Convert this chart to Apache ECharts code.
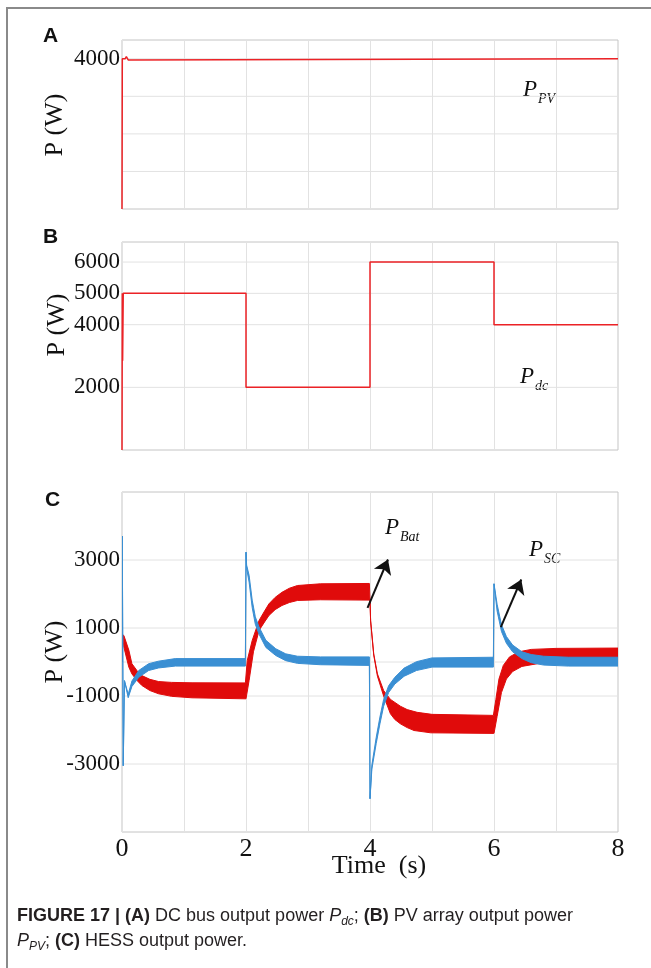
<!DOCTYPE html>
<html>
<head>
<meta charset="utf-8">
<script src="https://cdn.jsdelivr.net/npm/echarts@6/dist/echarts.min.js"></script>
<style>
  html, body { margin: 0; padding: 0; background: #fff; }
  #chart { width: 651px; height: 968px; }
</style>
</head>
<body>
<div id="chart"></div>
<script>
// tick labels and grid rows
const timeTicks = [0, 2, 4, 6, 8]
const pvLabels = [4000]
const pvGridRows = [1000, 2000, 3000, 4000]
const dcLabels = [2000, 4000, 5000, 6000]
const dcGridRows = [2000, 4000, 5000, 6000]
const hessLabels = [-3000, -1000, 1000, 3000]
const hessGridRows = [-3000, -1000, 0, 1000, 3000]

// (A) PV array power, [t, W]
const pvTrace = [[0, 0], [0.005, 4000], [0.05, 4000], [0.07, 4060], [0.1, 3970], [0.13, 4000], [8, 4000]]

// (B) DC bus power
const dcTrace = [[0, 0], [0.005, 5000], [0.01, 2850], [0.02, 5000], [2, 5000], [2, 2000], [4, 2000],
  [4, 6000], [6, 6000], [6, 4000], [8, 4000]]

// (C) battery power envelope (ripple band)
const batUpper = [[0, 0], [0.01, 800], [0.03, 780], [0.11, 350], [0.16, -50], [0.24, -250], [0.32, -400],
  [0.45, -510], [0.59, -575], [0.8, -600], [1.13, -612], [1.99, -615], [2.02, 44], [2.1, 632], [2.21, 1220],
  [2.3, 1500], [2.37, 1710], [2.47, 1900], [2.58, 2050], [2.7, 2170], [2.83, 2250], [3.2, 2300], [3.99, 2310],
  [4.0, 1810], [4.01, 1220], [4.06, 240], [4.12, -350], [4.22, -840], [4.33, -1100], [4.49, -1300],
  [4.6, -1400], [4.76, -1480], [5.0, -1540], [5.99, -1570], [6.03, -1100], [6.08, -500], [6.15, -100],
  [6.25, 150], [6.4, 300], [6.6, 370], [7.0, 400], [8.0, 410]]
const batLower = [[0, 0], [0.01, 800], [0.03, 435], [0.11, -150], [0.16, -350], [0.24, -540], [0.32, -690],
  [0.45, -840], [0.59, -935], [0.8, -1010], [1.13, -1053], [1.99, -1083], [2.0, -1083], [2.05, -544],
  [2.12, 300], [2.21, 926], [2.3, 1180], [2.37, 1368], [2.47, 1540], [2.58, 1662], [2.7, 1750], [2.83, 1810],
  [3.2, 1830], [3.99, 1820], [4.0, 1810], [4.01, 1200], [4.06, 200], [4.12, -420], [4.22, -1000],
  [4.33, -1524], [4.4, -1690], [4.49, -1818], [4.6, -1930], [4.71, -2015], [4.98, -2083], [5.99, -2100],
  [6.0, -2100], [6.05, -1600], [6.12, -900], [6.2, -500], [6.3, -280], [6.45, -130], [6.7, -50], [7.2, -20],
  [8.0, -10]]

// (C) supercapacitor power envelope
const scUpper = [[0, 0], [0.005, 3700], [0.02, -3050], [0.04, -550], [0.1, -950], [0.16, -560], [0.27, -250],
  [0.43, -50], [0.59, 25], [0.86, 100], [1.99, 100], [2.0, 3230], [2.01, 2850], [2.05, 2550], [2.1, 1820],
  [2.15, 1330], [2.21, 1030], [2.32, 640], [2.48, 390], [2.64, 240], [2.83, 170], [3.2, 150], [3.99, 150],
  [4.0, -4020], [4.03, -3030], [4.1, -2220], [4.16, -1620], [4.22, -1100], [4.3, -700], [4.4, -450],
  [4.55, -180], [4.75, 10], [5.0, 120], [5.99, 140], [6.0, 2300], [6.05, 1700], [6.12, 1100], [6.2, 750],
  [6.3, 500], [6.45, 300], [6.6, 220], [6.8, 170], [7.2, 140], [8.0, 140]]
const scLower = [[0, 0], [0.005, 3700], [0.02, -3050], [0.04, -550], [0.1, -1050], [0.16, -720], [0.27, -450],
  [0.43, -250], [0.59, -175], [0.86, -120], [1.99, -120], [2.0, 3230], [2.01, 2750], [2.05, 2350], [2.1, 1600],
  [2.15, 1110], [2.21, 820], [2.32, 430], [2.48, 190], [2.64, 40], [2.83, -40], [3.2, -80], [3.99, -100],
  [4.0, -4020], [4.03, -3150], [4.1, -2400], [4.16, -1820], [4.22, -1300], [4.3, -900], [4.4, -650],
  [4.55, -420], [4.75, -250], [5.0, -150], [5.99, -150], [6.0, 2300], [6.05, 1500], [6.12, 900], [6.2, 550],
  [6.3, 300], [6.45, 100], [6.6, -20], [6.8, -90], [7.2, -120], [8.0, -120]]

// annotation arrows, [tail, head]
const batArrow = [[3.96, 1594], [4.29, 3015]]
const scArrow = [[6.11, 1024], [6.44, 2426]]

const RED = '#ec2226'
const BAT_RED = '#e00b0b'
const SC_BLUE = '#3a8fd3'
const GRID_LINE = '#e2e2e2'
const SERIF = '"Liberation Serif", "Times New Roman", serif'
const SANS = '"Liberation Sans", Arial, sans-serif'

const chart = echarts.init(document.getElementById('chart'))

const panels = [
  { top: 40, height: 169, min: 0, max: 4500, labels: pvLabels, rows: pvGridRows },
  { top: 242, height: 208, min: 0, max: 6640, labels: dcLabels, rows: dcGridRows },
  { top: 492, height: 340, min: -5000, max: 5000, labels: hessLabels, rows: hessGridRows }
]

function bandRenderer(upper, lower, color) {
  return function (params, api) {
    if (params.dataIndex !== 0) return
    const points = upper.map(p => api.coord(p))
      .concat(lower.slice().reverse().map(p => api.coord(p)))
    return {
      type: 'polygon',
      shape: { points, smooth: 0 },
      style: { fill: color, stroke: color, lineWidth: 1 }
    }
  }
}

function gridRowSeries(i, rows) {
  return rows.map(v => ({
    type: 'line', xAxisIndex: i, yAxisIndex: i, data: [[0, v], [8, v]],
    symbol: 'none', silent: true, z: 1,
    lineStyle: { color: GRID_LINE, width: 1 }
  }))
}

function arrowSeries(arrow) {
  return {
    type: 'line', xAxisIndex: 2, yAxisIndex: 2, data: arrow, symbol: 'none', silent: true, z: 5,
    lineStyle: { opacity: 0 },
    markLine: {
      silent: true, symbol: ['none', 'arrow'], symbolSize: 14,
      label: { show: false },
      lineStyle: { color: '#111', width: 2, type: 'solid' },
      data: [[{ coord: arrow[0] }, { coord: arrow[1] }]]
    }
  }
}

function pLabel(x, y, sub) {
  return {
    type: 'text', x, y,
    style: {
      text: '{p|P}{s|' + sub + '}',
      textVerticalAlign: 'middle',
      rich: {
        p: { fontFamily: SERIF, fontStyle: 'italic', fontSize: 23, lineHeight: 24, fill: '#111' },
        s: { fontFamily: SERIF, fontStyle: 'italic', fontSize: 14, lineHeight: 14, padding: [19, 0, 0, 1], fill: '#111' }
      }
    }
  }
}

const captionRich = {
  b: { fontFamily: SANS, fontWeight: 'bold', fontSize: 18, lineHeight: 22, fill: '#231f20' },
  i: { fontFamily: SANS, fontStyle: 'italic', fontSize: 18, lineHeight: 22, fill: '#231f20' },
  sub: { fontFamily: SANS, fontStyle: 'italic', fontSize: 12, lineHeight: 12, padding: [11, 0, 0, 0], fill: '#231f20' },
  n: { fontFamily: SANS, fontSize: 18, lineHeight: 22, fill: '#231f20' }
}

const option = {
  animation: false,
  backgroundColor: '#fff',
  grid: panels.map(p => ({
    left: 122, right: 33, top: p.top, height: p.height,
    show: true, borderColor: '#c4c4c4', borderWidth: 1, backgroundColor: 'transparent'
  })),
  xAxis: panels.map((p, i) => ({
    type: 'value', gridIndex: i, min: 0, max: 8, interval: 1,
    axisLine: { show: false }, axisTick: { show: false },
    splitLine: { show: true, lineStyle: { color: GRID_LINE, width: 1 } },
    axisLabel: i === 2 ? {
      show: true, margin: 4, fontSize: 26, fontFamily: SERIF, color: '#111',
      formatter: v => (timeTicks.includes(v) ? String(v) : '')
    } : { show: false }
  })),
  yAxis: panels.map((p, i) => ({
    type: 'value', gridIndex: i, min: p.min, max: p.max, interval: 1000,
    axisLine: { show: false }, axisTick: { show: false }, splitLine: { show: false },
    axisLabel: {
      margin: 2, fontSize: 23, fontFamily: SERIF, color: '#111',
      formatter: v => (p.labels.includes(v) ? String(v) : '')
    }
  })),
  series: [
    ...panels.flatMap((p, i) => gridRowSeries(i, p.rows)),
    {
      name: 'P_PV', type: 'line', xAxisIndex: 0, yAxisIndex: 0, data: pvTrace,
      symbol: 'none', z: 3, lineStyle: { color: RED, width: 1.5 }
    },
    {
      name: 'P_dc', type: 'line', xAxisIndex: 1, yAxisIndex: 1, data: dcTrace,
      symbol: 'none', z: 3, lineStyle: { color: RED, width: 1.5 }
    },
    {
      name: 'P_Bat', type: 'custom', xAxisIndex: 2, yAxisIndex: 2, data: batUpper, clip: true, z: 3,
      silent: true, renderItem: bandRenderer(batUpper, batLower, BAT_RED)
    },
    {
      name: 'P_SC', type: 'custom', xAxisIndex: 2, yAxisIndex: 2, data: scUpper, clip: true, z: 4,
      silent: true, renderItem: bandRenderer(scUpper, scLower, SC_BLUE)
    },
    arrowSeries(batArrow),
    arrowSeries(scArrow)
  ],
  graphic: [
    {
      type: 'rect', silent: true, z: 0,
      shape: { x: 7, y: 8, width: 700, height: 1000 },
      style: { fill: 'none', stroke: '#8a8a8a', lineWidth: 2 }
    },
    { type: 'text', x: 43, y: 26, style: { text: 'A', font: 'bold 21px ' + SANS, fill: '#111' } },
    { type: 'text', x: 43, y: 227, style: { text: 'B', font: 'bold 21px ' + SANS, fill: '#111' } },
    { type: 'text', x: 45, y: 490, style: { text: 'C', font: 'bold 21px ' + SANS, fill: '#111' } },
    {
      type: 'text', x: 55, y: 125, rotation: Math.PI / 2,
      style: { text: 'P (W)', font: '26px ' + SERIF, fill: '#111', textAlign: 'center', textVerticalAlign: 'middle' }
    },
    {
      type: 'text', x: 57, y: 325, rotation: Math.PI / 2,
      style: { text: 'P (W)', font: '26px ' + SERIF, fill: '#111', textAlign: 'center', textVerticalAlign: 'middle' }
    },
    {
      type: 'text', x: 55, y: 652, rotation: Math.PI / 2,
      style: { text: 'P (W)', font: '26px ' + SERIF, fill: '#111', textAlign: 'center', textVerticalAlign: 'middle' }
    },
    pLabel(523, 90, 'PV'),
    pLabel(520, 377, 'dc'),
    pLabel(385, 528, 'Bat'),
    pLabel(529, 550, 'SC'),
    {
      type: 'text', x: 379, y: 866,
      style: { text: 'Time  (s)', font: '26px ' + SERIF, fill: '#111', textAlign: 'center', textVerticalAlign: 'middle' }
    },
    {
      type: 'text', x: 17, y: 916,
      style: {
        text: '{b|FIGURE 17 | (A)}{n| DC bus output power }{i|P}{sub|dc}{n|; }{b|(B)}{n| PV array output power}',
        textVerticalAlign: 'middle', rich: captionRich
      }
    },
    {
      type: 'text', x: 17, y: 941,
      style: {
        text: '{i|P}{sub|PV}{n|; }{b|(C)}{n| HESS output power.}',
        textVerticalAlign: 'middle', rich: captionRich
      }
    }
  ]
}

chart.setOption(option)
</script>
</body>
</html>
